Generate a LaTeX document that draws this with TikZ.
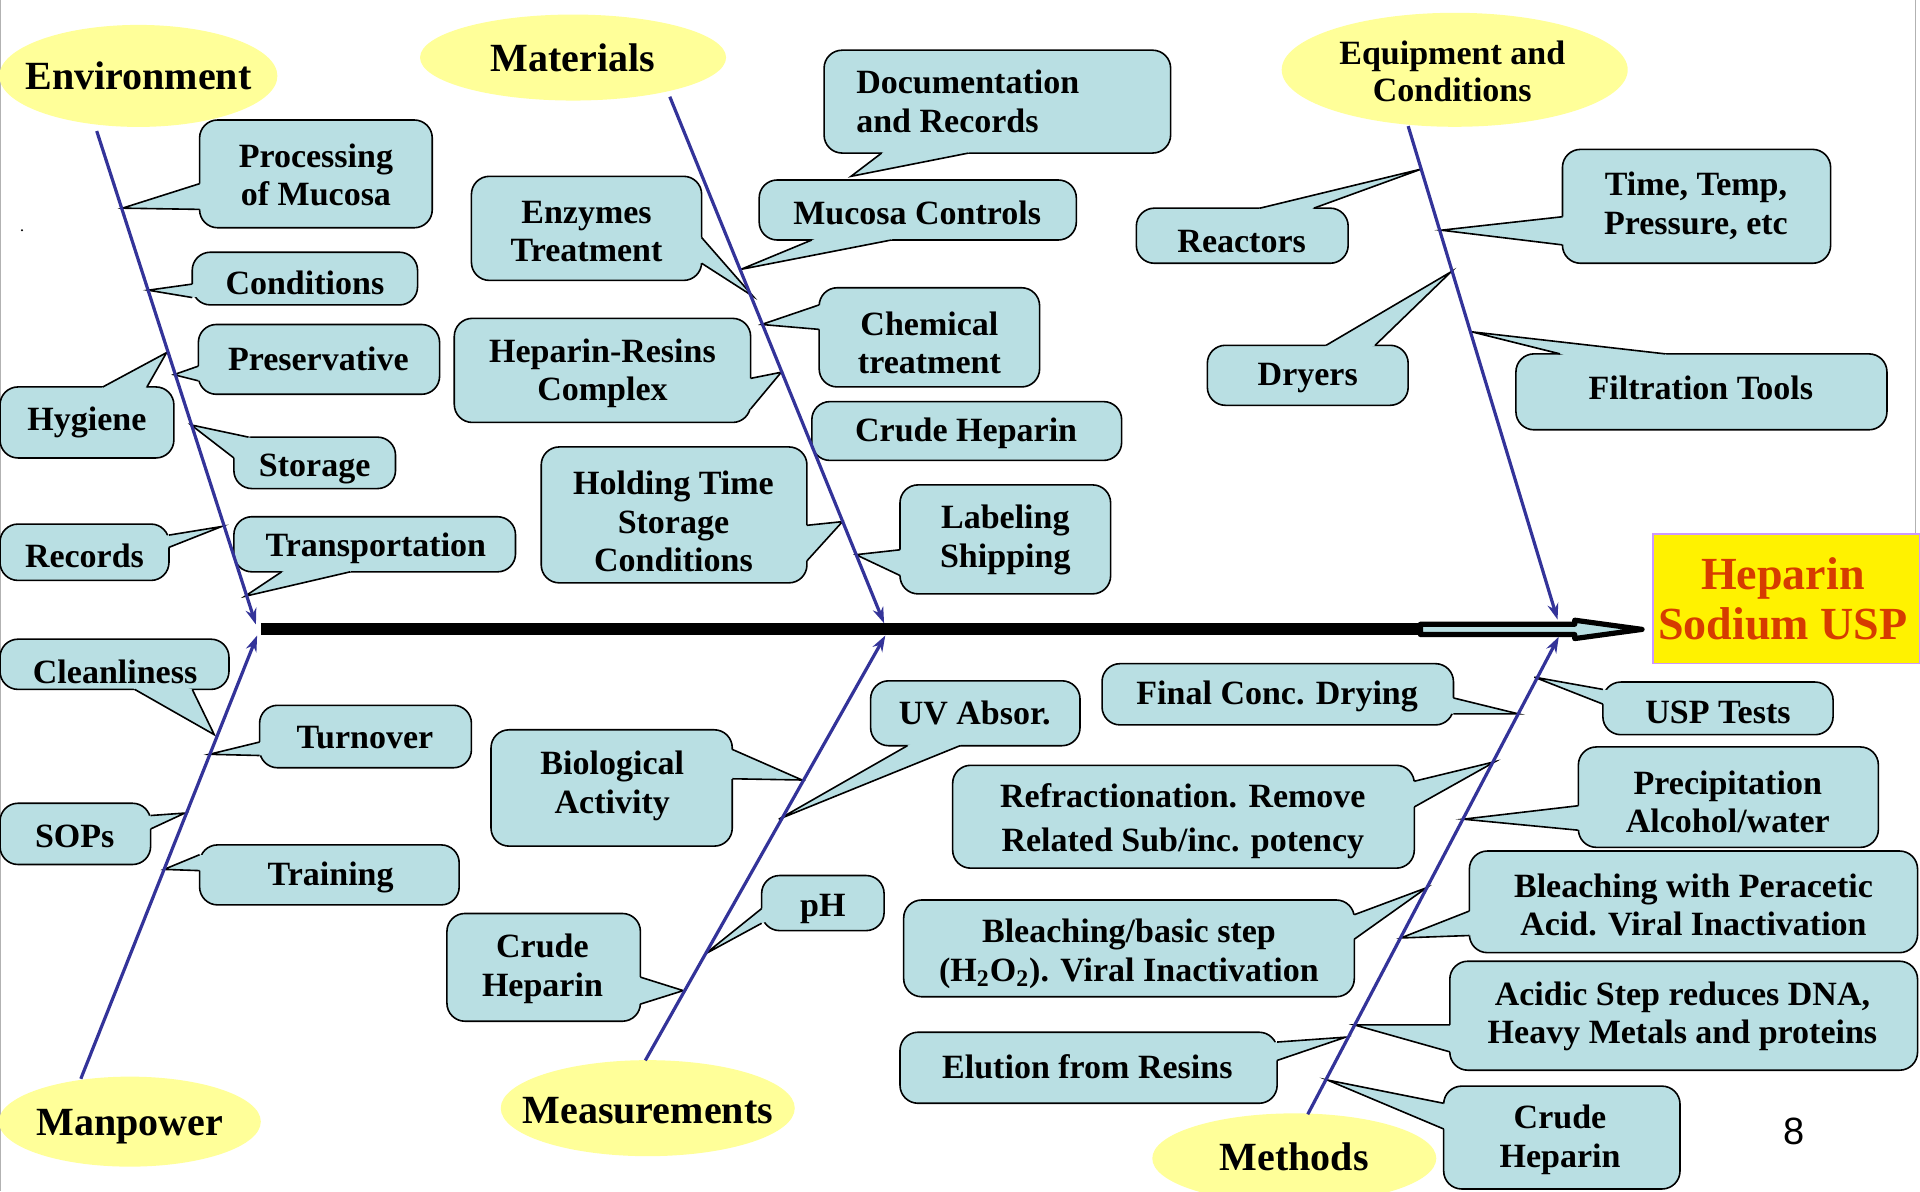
\documentclass[tikz,border=0pt]{standalone}
\usepackage{fontspec}
\setmainfont{Liberation Serif}
\newfontfamily\pgfont{Liberation Sans}
\usetikzlibrary{arrows.meta,fit,calc,shapes.geometric}
\definecolor{boxblue}{HTML}{B9DFE3}
\definecolor{ellyellow}{HTML}{FFFF99}
\definecolor{bonecol}{HTML}{333399}
\definecolor{prodred}{HTML}{D63C00}
\definecolor{prodborder}{HTML}{CC99FF}
\tikzset{
  cbox/.style={draw=black, fill=boxblue, line width=0.8pt, rounded corners=9pt, inner sep=0pt},
  cline/.style={draw=black, line width=0.8pt},
  ctext/.style={font=\bfseries\fontsize{17}{19.3}\selectfont, align=center, inner sep=0pt, yshift=-1.2pt},
  ell/.style={ellipse, fill=ellyellow, inner sep=0pt},
  etext/.style={font=\bfseries\fontsize{20}{22}\selectfont, align=center, inner sep=0pt},
  bone/.style={draw=bonecol, line width=1.6pt, -{Stealth[length=8pt,width=5.5pt]}},
}
% #1 text options, #2 name, #3 corner1, #4 corner2, #5 base A, #6 base B, #7 tip, #8 text pos, #9 text
\newcommand\callout[9][]{%
  \node[cbox, fit={(#3)(#4)}] (#2) {};
  \coordinate (#2-tip) at (#7);
  \fill[boxblue] (#5) -- (#2-tip) -- (#6) -- ($(#6)!2.5pt!(#2.center)$) -- ($(#5)!2.5pt!(#2.center)$) -- cycle;
  \draw[cline] (#5) -- (#2-tip) -- (#6);
  \node[ctext,#1] (#2-t) at (#8) {#9};
}
\begin{document}
\begin{tikzpicture}[x=0.6122pt,y=-0.6122pt]
\useasboundingbox (0,0) rectangle (1568,973);
\clip (0,0) rectangle (1568,973);
\fill[white] (0,0) rectangle (1568,973);
\draw[gray!60, line width=0.6pt] (0.5,0) -- (0.5,973);
\draw[gray!60, line width=0.6pt] (1564,0) -- (1564,436);
\fill (18,188) circle (0.9);

% category ellipses
\node[ell, minimum width=139pt, minimum height=51pt] (env) at (113,62) {};
\node[etext] (env-t) at (env.center) {Environment};
\node[ell, minimum width=153pt, minimum height=43pt] (mat) at (468,47) {};
\node[etext] (mat-t) at (mat.center) {Materials};
\node[ell, minimum width=173pt, minimum height=57pt] (equ) at (1188,57) {};
\node[etext, font=\bfseries\fontsize{17}{18.4}\selectfont] (equ-t) at (1186,58) {Equipment and\\Conditions};
\node[ell, minimum width=131pt, minimum height=45pt] (man) at (106,916) {};
\node[etext] (man-t) at (106,920) {Manpower};
\node[ell, minimum width=147pt, minimum height=48pt] (mea) at (529,905) {};
\node[etext] (mea-t) at (529,907) {Measurements};
\node[ell, minimum width=142pt, minimum height=45pt] (met) at (1057,946) {};
\node[etext] (met-t) at (1057,945) {Methods};

% Environment
\callout{proc}{163,98}{353,186}{163,150}{163,171}{100,170}{258,141}{Processing\\of Mucosa}
\callout{cond}{157,206}{341,249}{157,232}{157,243}{121,237}{249,229}{Conditions}
\callout{pres}{162,265}{359,322}{162,299}{162,311}{142,306}{260,291}{Preservative}
\callout{hyg}{0,316}{142,374}{84,316}{120,316}{136,288}{71,343}{Hygiene}
\callout{stor}{191,357}{323,399}{203,357}{191,374}{156,347}{257,381}{Storage}
\callout{rec}{0,428}{138,474}{138,437}{138,447}{181,430}{69,452}{Records}
\callout{trans}{191,422}{421,467}{230,467}{286,467}{200,487}{307,446}{Transportation}
% Manpower
\callout{clean}{0,522}{187,563}{110,563}{157,563}{175,600}{94,547}{Cleanliness}
\callout{turn}{212,576}{385,627}{212,606}{212,617}{171,616}{298,600}{Turnover}
\callout{sops}{0,656}{123,706}{123,666}{123,677}{151,664}{61,681}{SOPs}
\callout{train}{163,690}{375,739}{163,698}{163,711}{134,710}{270,715}{Training}
% Materials
\callout{mucc}{620,147}{879,196}{663,196}{728,196}{605,220}{749,172}{Mucosa Controls}
\callout[anchor=west,align=left]{doc}{673,41}{956,125}{720,125}{791,125}{695,144}{699,81}{Documentation\\and Records}
\callout{enz}{385,144}{573,229}{573,194}{573,215}{615,242}{479,187}{Enzymes\\Treatment}
\callout{chem}{669,235}{849,316}{669,249}{669,269}{622,265}{759,278}{Chemical\\treatment}
\callout{hres}{371,260}{613,345}{613,309}{613,334}{638,304}{492,303}{Heparin-Resins\\Complex}
\node[cbox, fit={(663,328)(916,376)}] (crm) {};
\node[ctext] (crm-t) at (789,352) {Crude Heparin};
\callout{hold}{442,365}{659,476}{659,429}{659,458}{688,426}{550,424}{Holding Time\\Storage\\Conditions}
\callout{lab}{735,396}{907,485}{735,449}{735,470}{699,453}{821,439}{Labeling\\Shipping}
% Measurements
\callout{bio}{401,596}{598,691}{598,612}{598,636}{655,637}{500,640}{Biological\\Activity}
\callout{uv}{711,556}{882,609}{741,609}{784,609}{636,669}{796,580}{UV Absor.}
\callout{ph}{622,715}{722,760}{622,742}{622,754}{576,779}{672,740}{pH}
\callout{crme}{365,746}{523,834}{523,798}{523,820}{558,809}{443,789}{Crude\\Heparin}
% Equipment
\callout{react}{928,170}{1101,215}{1029,170}{1073,170}{1161,138}{1014,195}{Reactors}
\callout{time}{1276,122}{1495,215}{1276,177}{1276,200}{1177,188}{1385,166}{Time, Temp,\\Pressure, etc}
\callout{dry}{986,282}{1150,331}{1083,282}{1123,282}{1185,222}{1068,307}{Dryers}
\callout{filt}{1238,289}{1541,351}{1274,289}{1360,289}{1202,271}{1389,315}{Filtration Tools}
% Methods
\callout{fcd}{900,542}{1187,592}{1187,570}{1187,583}{1240,583}{1043,567}{Final Conc. Drying}
\callout{usp}{1309,557}{1497,600}{1309,563}{1309,575}{1253,553}{1403,580}{USP Tests}
\callout[font=\bfseries\fontsize{17}{22}\selectfont]{refr}{778,625}{1155,709}{1155,638}{1155,659}{1221,622}{966,669}{Refractionation. Remove\\Related Sub/inc. potency}
\callout{prec}{1289,610}{1534,692}{1289,658}{1289,678}{1195,669}{1411,653}{Precipitation\\Alcohol/water}
\callout{blb}{738,735}{1106,814}{1106,747}{1106,767}{1165,725}{922,777}{Bleaching/basic step\\(H\textsubscript{2}O\textsubscript{2}). Viral Inactivation}
\callout{blp}{1200,695}{1566,778}{1200,744}{1200,764}{1144,766}{1383,737}{Bleaching with Peracetic\\Acid. Viral Inactivation}
\callout{acid}{1184,785}{1566,874}{1184,837}{1184,859}{1106,837}{1374,828}{Acidic Step reduces DNA,\\Heavy Metals and proteins}
\callout{elu}{735,843}{1043,901}{1043,851}{1043,866}{1099,847}{888,869}{Elution from Resins}
\callout{crmt}{1179,887}{1372,971}{1179,901}{1179,922}{1084,882}{1274,929}{Crude\\Heparin}

% product box
\node[draw=prodborder, fill=yellow, line width=0.8pt, inner sep=0pt, fit={(1350,436)(1568,542)}] (prod) {};
\node[font=\bfseries\fontsize{23}{25}\selectfont, text=prodred, align=center, inner sep=0pt] (prod-t) at (1456,489) {Heparin\\Sodium USP};

% spine
\coordinate (spL) at (213,514);
\coordinate (spM) at (1160,514);
\coordinate (spR) at (1341,514);
\draw[line width=6pt] (spL) -- (spM);
\draw[line width=2.6pt, fill=boxblue, line join=round] (1160,509.8) -- (1286,509.8) -- (1286,506.5) -- (spR) -- (1286,521.5) -- (1286,518.2) -- (1160,518.2) -- cycle;

% bones
\coordinate (envTop) at (79,107);   \coordinate (envTip) at (209,510);
\coordinate (manBot) at (66,881);   \coordinate (manTip) at (210,519);
\coordinate (matTop) at (547,79);   \coordinate (matTip) at (722,509);
\coordinate (meaBot) at (527,866);  \coordinate (meaTip) at (723,519);
\coordinate (equTop) at (1150,103); \coordinate (equTip) at (1272,506);
\coordinate (metBot) at (1068,910); \coordinate (metTip) at (1273,520);
\draw[bone] (envTop) -- (envTip);
\draw[bone] (manBot) -- (manTip);
\draw[bone] (matTop) -- (matTip);
\draw[bone] (meaBot) -- (meaTip);
\draw[bone] (equTop) -- (equTip);
\draw[bone] (metBot) -- (metTip);

\node[font=\pgfont\fontsize{19}{22}\selectfont, inner sep=0pt] (pg) at (1465,924) {8};
\end{tikzpicture}
\end{document}
